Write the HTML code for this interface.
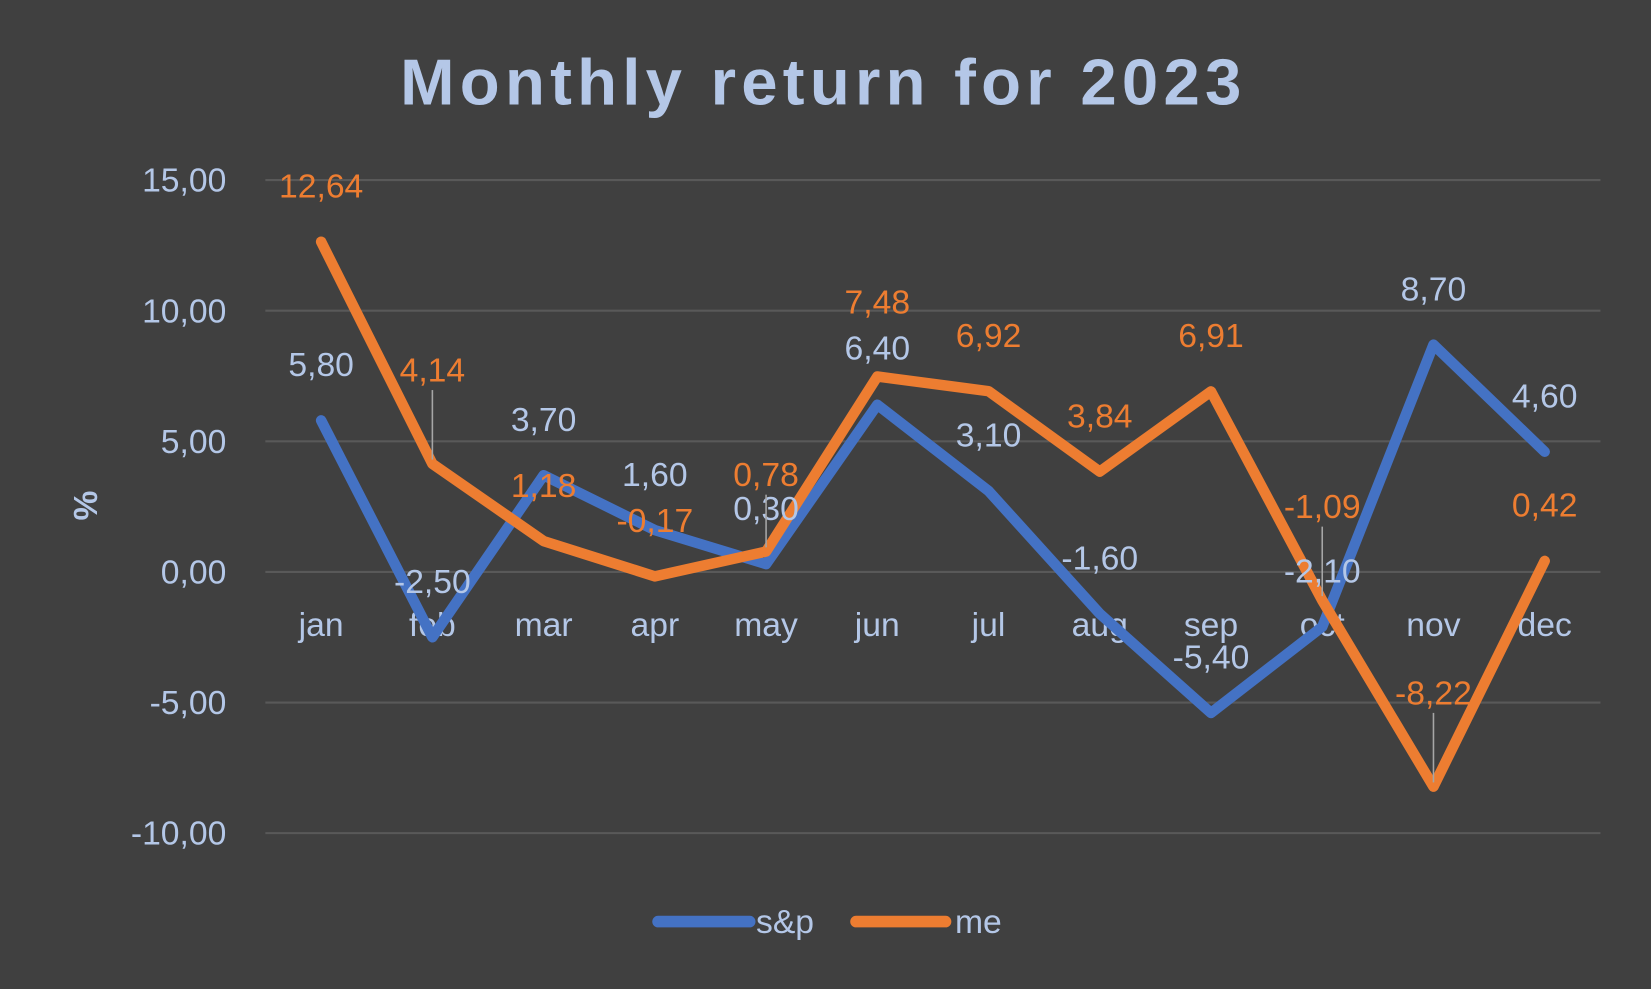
<!DOCTYPE html>
<html><head><meta charset="utf-8"><style>
html,body{margin:0;padding:0;background:#404040;}
svg{display:block;font-family:"Liberation Sans",sans-serif;}
</style></head><body>
<svg id="chart" width="1651" height="989" viewBox="0 0 1568 939" preserveAspectRatio="none" xmlns="http://www.w3.org/2000/svg">
<rect width="1568" height="939" fill="#404040"/>
<text x="782" y="99" text-anchor="middle" font-size="62" font-weight="bold" fill="#b4c7e7" letter-spacing="5">Monthly return for 2023</text>
<text transform="translate(92,480) rotate(-90)" text-anchor="middle" font-size="32" font-weight="bold" fill="#b4c7e7">%</text>
<g id="grid"></g><g id="yticks"></g><g id="xticks"></g><g id="lines"></g><g id="labels"></g>
<g>
<line x1="625" y1="875" x2="712" y2="875" stroke="#4472c4" stroke-width="11" stroke-linecap="round"/>
<text x="718" y="886" font-size="32" fill="#b4c7e7">s&amp;p</text>
<line x1="813" y1="875" x2="898" y2="875" stroke="#ed7d31" stroke-width="11" stroke-linecap="round"/>
<text x="907" y="886" font-size="32" fill="#b4c7e7">me</text>
</g>
</svg>
<script>
const months = ["jan","feb","mar","apr","may","jun","jul","aug","sep","oct","nov","dec"];
const spValues = [5.80,-2.50,3.70,1.60,0.30,6.40,3.10,-1.60,-5.40,-2.10,8.70,4.60];
const meValues = [12.64,4.14,1.18,-0.17,0.78,7.48,6.92,3.84,6.91,-1.09,-8.22,0.42];
const yTicks = [15,10,5,0,-5,-10];
const NS="http://www.w3.org/2000/svg";
function y(v){return 543 - v*24.8;}
function x(i){return 305 + i*105.64;}
function fmt(v){return v.toFixed(2).replace('.',',');}
function mk(tag,attrs,parent){const e=document.createElementNS(NS,tag);for(const k in attrs)e.setAttribute(k,attrs[k]);document.getElementById(parent).appendChild(e);return e;}
yTicks.forEach(t=>{
  const l=mk('line',{x1:252,x2:1520,y1:y(t),y2:y(t),stroke:'#595959','stroke-width':2},'grid');
  
  
  const tx=mk('text',{x:215,y:y(t)+11,'text-anchor':'end','font-size':32,fill:'#b4c7e7'},'yticks');
  tx.textContent=fmt(t);
  
  
});
months.forEach((m,i)=>{
  const tx=mk('text',{x:x(i),y:604,'text-anchor':'middle','font-size':32,fill:'#b4c7e7'},'xticks');
  tx.textContent=m;
  
  
});
function series(vals,color,name){
  const p=mk('polyline',{points:vals.map((v,i)=>x(i)+','+y(v)).join(' '),fill:'none',stroke:color,'stroke-width':10,'stroke-linejoin':'round','stroke-linecap':'round'},'lines');
  
  
}
series(spValues,'#4472c4','sp');
series(meValues,'#ed7d31','me');
function labels(vals,color,name){
  vals.forEach((v,i)=>{
    let ly=y(v)-42;
    if(name==='me'&&(i===1||i===9||i===10)){
      ly=y(v)-78;
      const ll=mk('line',{x1:x(i),x2:x(i),y1:ly+8,y2:y(v)-4,stroke:'#a6a6a6','stroke-width':1.5},'labels');
      
      
    }
    if(name==='me'&&i===4){
      ly=y(v)-62;
      const ll=mk('line',{x1:x(i),x2:x(i),y1:ly+8,y2:y(v)-4,stroke:'#a6a6a6','stroke-width':1.5},'labels');
      
      
    }
    if(name==='me'&&i===5)ly=y(v)-60;
    if(name==='sp'&&i===5)ly=y(v)-43;
    const t=mk('text',{x:x(i),y:ly,'text-anchor':'middle','font-size':32,fill:color},'labels');
    t.textContent=fmt(v);
    
    
  });
}
labels(spValues,'#b4c7e7','sp');
labels(meValues,'#ed7d31','me');
</script>
</body></html>
